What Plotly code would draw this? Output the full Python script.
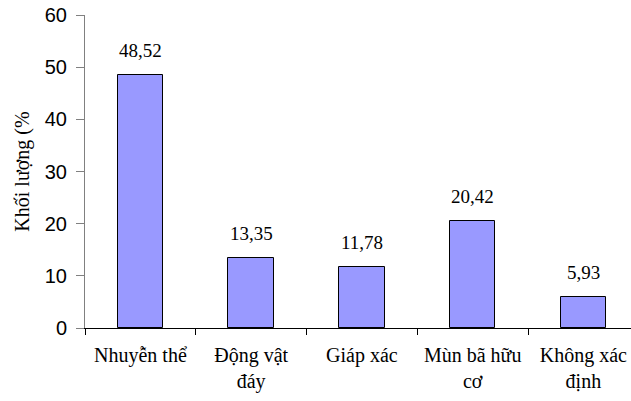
import plotly.graph_objects as go

# Thành phần thức ăn theo khối lượng
categories = ["Nhuyễn thể", "Động vật<br>đáy", "Giáp xác", "Mùn bã hữu<br>cơ", "Không xác<br>định"]
values = [48.52, 13.35, 11.78, 20.42, 5.93]
y_ticks = [0, 10, 20, 30, 40, 50, 60]

labels = [f"{v:.2f}".replace(".", ",") for v in values]

SERIF = "Times New Roman, Liberation Serif, serif"
SANS = "Arial, Liberation Sans, sans-serif"

fig = go.Figure()
fig.add_trace(go.Bar(
    x=categories,
    y=values,
    width=0.41,
    marker=dict(color="#9999FF", line=dict(color="black", width=1)),
    hoverinfo="skip",
))

for c, v, t in zip(categories, values, labels):
    fig.add_annotation(
        x=c, y=v, text=t, showarrow=False,
        yanchor="bottom", yshift=12,
        font=dict(family=SERIF, size=19, color="black"),
    )

fig.update_layout(
    width=631, height=401,
    margin=dict(l=85, r=0, t=15, b=73),
    paper_bgcolor="white", plot_bgcolor="white",
    showlegend=False,
    bargap=0,
    font=dict(family=SERIF),
)
fig.update_xaxes(
    type="category",
    range=[-0.5, 4.43],
    showline=True, linecolor="black", linewidth=1,
    ticks="outside", tickson="boundaries", ticklen=6, tickcolor="black",
    ticklabelstandoff=9,
    tickfont=dict(family=SERIF, size=20, color="black"),
    showgrid=False, zeroline=False,
)
fig.update_yaxes(
    range=[0, 60],
    tickvals=y_ticks,
    showline=True, linecolor="#808080", linewidth=1,
    ticks="outside", ticklen=8, tickcolor="#808080",
    ticklabelstandoff=5,
    tickfont=dict(family=SANS, size=20, color="black"),
    showgrid=False, zeroline=False,
    title=dict(text="Khối lượng (%", standoff=9,
               font=dict(family=SERIF, size=20, color="black")),
)

fig.write_html("out.html")
